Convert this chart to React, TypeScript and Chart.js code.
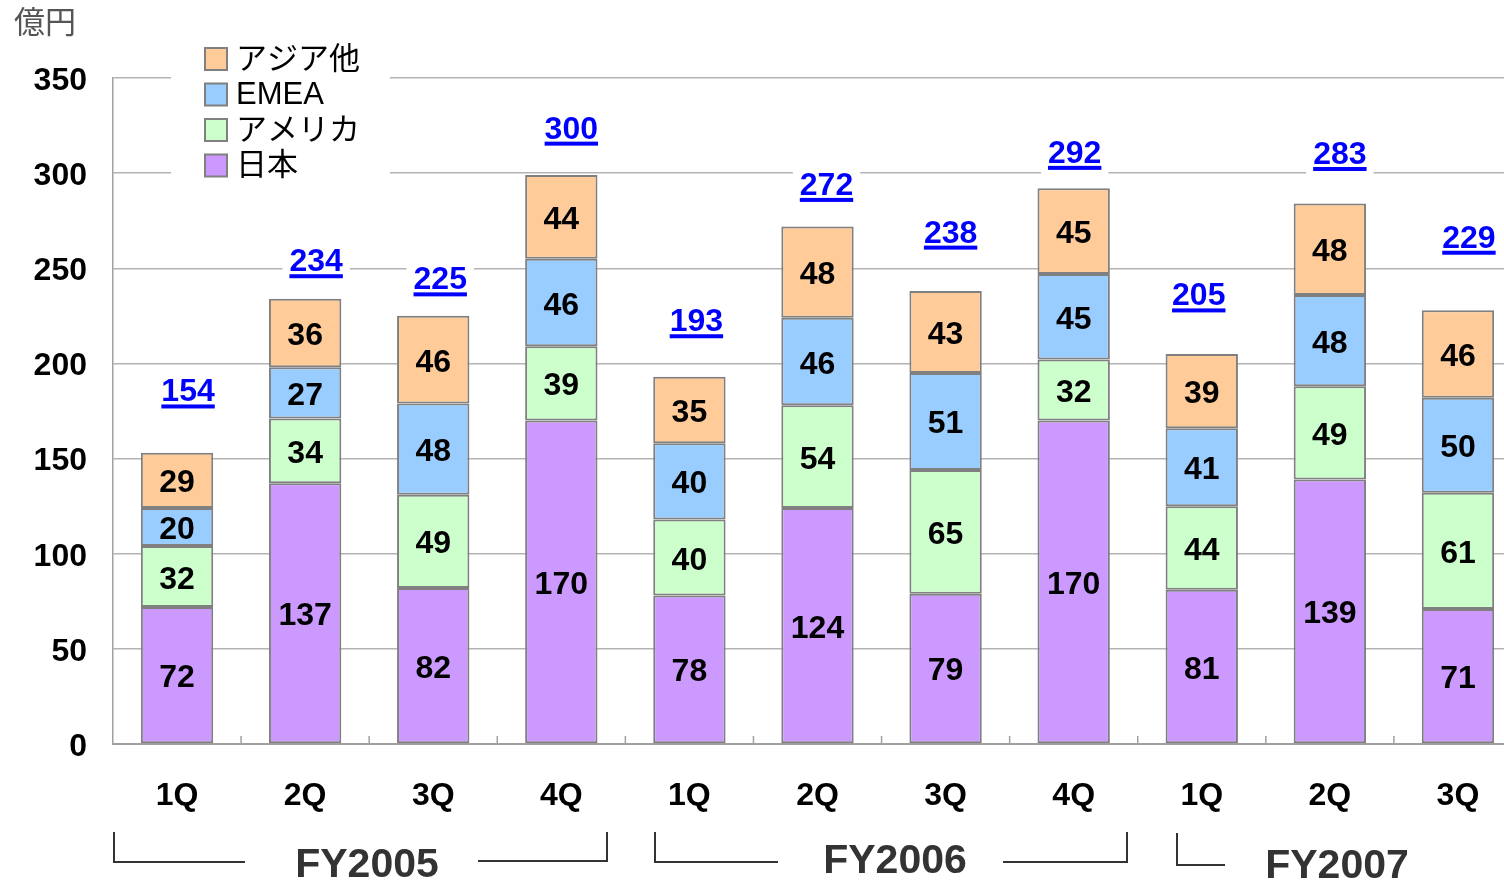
import React, { useEffect, useRef } from "react";
import { Chart, registerables } from "chart.js";

Chart.register(...registerables);

const categories = ["1Q", "2Q", "3Q", "4Q", "1Q", "2Q", "3Q", "4Q", "1Q", "2Q", "3Q"];
const japan = [72, 137, 82, 170, 78, 124, 79, 170, 81, 139, 71];
const america = [32, 34, 49, 39, 40, 54, 65, 32, 44, 49, 61];
const emea = [20, 27, 48, 46, 40, 46, 51, 45, 41, 48, 50];
const asia = [29, 36, 46, 44, 35, 48, 43, 45, 39, 48, 46];
const totals = [154, 234, 225, 300, 193, 272, 238, 292, 205, 283, 229];
const fiscalYears = ["FY2005", "FY2006", "FY2007"];
const yTicks = [0, 50, 100, 150, 200, 250, 300, 350];

// label placement tweaks (pixels), styling only
const totalDx = [11, 11, 7, 10, 7, 9, 5, 1, -3, 10, 11];
const totalDy = [61, 39, 38, 46, 57, 43, 60, 37, 60, 53, 72];

const FONT = '"Liberation Sans", "Noto Sans CJK JP", Arial, sans-serif';

const seriesNames = ["日本", "アメリカ", "EMEA", "アジア他"];
const seriesColors = ["#CC99FF", "#CCFFCC", "#99CCFF", "#FFCC99"];
const seriesData = [japan, america, emea, asia];

const overlayPlugin = {
  id: "overlay",
  afterDatasetsDraw(chart: any) {
    const ctx = chart.ctx;
    const x = chart.scales.x;
    const y = chart.scales.y;
    ctx.save();
    // small tick marks between categories
    ctx.strokeStyle = "#a0a0a0";
    ctx.lineWidth = 1.5;
    for (let i = 1; i < categories.length; i++) {
      const bx = (x.getPixelForValue(i - 1) + x.getPixelForValue(i)) / 2;
      ctx.beginPath();
      ctx.moveTo(bx, y.bottom);
      ctx.lineTo(bx, y.bottom - 8);
      ctx.stroke();
    }
    // segment labels
    ctx.fillStyle = "#000";
    ctx.font = `bold 32px ${FONT}`;
    ctx.textAlign = "center";
    ctx.textBaseline = "alphabetic";
    for (let d = 0; d < seriesData.length; d++) {
      const meta = chart.getDatasetMeta(d);
      meta.data.forEach((bar: any, i: number) => {
        const cy = (bar.y + bar.base) / 2;
        ctx.fillText(String(seriesData[d][i]), bar.x, cy + 12);
      });
    }
    // totals
    ctx.font = `bold 32px ${FONT}`;
    totals.forEach((t, i) => {
      const cx = x.getPixelForValue(i) + totalDx[i];
      const cy = y.getPixelForValue(t) - totalDy[i];
      const txt = String(t);
      const w = ctx.measureText(txt).width;
      ctx.fillStyle = "#fff";
      ctx.fillRect(cx - w / 2 - 7, cy - 20, w + 14, 45);
      ctx.fillStyle = "#0000FF";
      ctx.fillText(txt, cx, cy + 11.5);
      ctx.fillRect(cx - w / 2, cy + 14.5, w, 4);
    });
    ctx.restore();
  },
  afterDraw(chart: any) {
    const ctx = chart.ctx;
    ctx.save();
    // unit
    ctx.fillStyle = "#555";
    ctx.font = `31px ${FONT}`;
    ctx.textAlign = "left";
    ctx.textBaseline = "middle";
    ctx.fillText("億円", 14, 24);
    // legend
    ctx.fillStyle = "#fff";
    ctx.fillRect(171, 40, 219, 148);
    const rows = [3, 2, 1, 0];
    rows.forEach((s, r) => {
      const cy = 59 + r * 35.5;
      ctx.fillStyle = seriesColors[s];
      ctx.fillRect(205, cy - 11, 22, 22);
      ctx.strokeStyle = "#808080";
      ctx.lineWidth = 2;
      ctx.strokeRect(205, cy - 11, 22, 22);
      ctx.fillStyle = "#000";
      ctx.font = `31px ${FONT}`;
      ctx.textBaseline = "middle";
      ctx.fillText(seriesNames[s], 236, cy + 1);
    });
    // fiscal-year brackets
    ctx.strokeStyle = "#333";
    ctx.lineWidth = 2;
    const seg = (pts: number[][]) => {
      ctx.beginPath();
      ctx.moveTo(pts[0][0], pts[0][1]);
      for (let k = 1; k < pts.length; k++) ctx.lineTo(pts[k][0], pts[k][1]);
      ctx.stroke();
    };
    seg([[114, 832], [114, 862], [245, 862]]);
    seg([[478, 861], [607, 861], [607, 832]]);
    seg([[655, 832], [655, 862], [778, 862]]);
    seg([[1003, 862], [1127, 862], [1127, 832]]);
    seg([[1177, 833], [1177, 865], [1225, 865]]);
    ctx.fillStyle = "#333";
    ctx.font = `bold 41px ${FONT}`;
    ctx.textAlign = "center";
    ctx.textBaseline = "alphabetic";
    const fyPos = [[367, 877], [895, 873], [1337, 878]];
    fiscalYears.forEach((f, i) => ctx.fillText(f, fyPos[i][0], fyPos[i][1]));
    ctx.restore();
  },
};

export default function App() {
  const ref = useRef<HTMLCanvasElement>(null);
  useEffect(() => {
    document.body.style.margin = "0";
    const chart = new Chart(ref.current as HTMLCanvasElement, {
      type: "bar",
      data: {
        labels: categories,
        datasets: seriesData.map((d, i) => ({
          label: seriesNames[i],
          data: d,
          backgroundColor: seriesColors[i],
          borderColor: "#808080",
          borderWidth: 2,
          borderSkipped: false,
          barPercentage: 0.565,
          categoryPercentage: 1,
        })),
      },
      options: {
        responsive: false,
        animation: false,
        devicePixelRatio: 1,
        layout: { padding: { top: 78, left: 0, right: 0, bottom: 0 } },
        plugins: { legend: { display: false }, tooltip: { enabled: false } },
        scales: {
          x: {
            stacked: true,
            grid: { display: false, drawTicks: false },
            border: { color: "#a0a0a0", width: 2 },
            ticks: {
              color: "#000",
              font: { family: FONT, size: 32, weight: "bold" },
              padding: 33,
            },
            afterFit: (s: any) => {
              s.height = 138;
            },
          },
          y: {
            stacked: true,
            min: 0,
            max: 350,
            afterBuildTicks: (s: any) => {
              s.ticks = yTicks.map((v) => ({ value: v }));
            },
            grid: { color: "#b3b3b3", lineWidth: 1.5, drawTicks: false },
            border: { color: "#a0a0a0", width: 1.5 },
            ticks: {
              color: "#000",
              font: { family: FONT, size: 32, weight: "bold" },
              padding: 26,
              labelOffset: 3,
            },
            afterFit: (s: any) => {
              s.width = 113;
            },
          },
        },
      },
      plugins: [overlayPlugin],
    } as any);
    return () => chart.destroy();
  }, []);
  return (
    <div style={{ position: "absolute", left: 0, top: 0, width: 1504, height: 882, overflow: "hidden" }}>
      <canvas ref={ref} width={1522} height={882} style={{ display: "block" }} />
    </div>
  );
}
